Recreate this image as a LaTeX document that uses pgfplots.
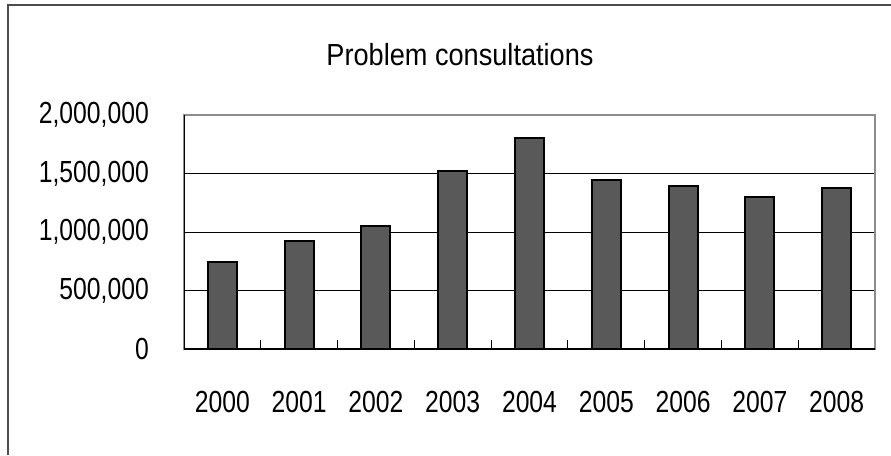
\documentclass[border=0pt]{standalone}
\usepackage{fontspec}
\setmainfont[FakeStretch=0.81]{Liberation Sans}
\newfontfamily\titlefont[FakeStretch=0.89]{Liberation Sans}
\usepackage{pgfplots}
\pgfplotsset{compat=1.18}
\begin{document}
\begin{tikzpicture}[x=1pt,y=1pt]
\useasboundingbox (0,0) rectangle (891,-455);
\draw[line width=1.3pt, black!70] (8,-455) -- (8,-5) -- (891,-5);
\node[anchor=base, inner sep=0pt, font=\titlefont\fontsize{30.5}{36}\selectfont] at (460,-65) {Problem consultations};
\begin{axis}[
  at={(184pt,-349pt)}, anchor=south west,
  scale only axis, width=691pt, height=234pt,
  xmin=-0.5, xmax=8.5, ymin=0, ymax=2000000,
  axis line style={draw=black!45, line width=1.5pt},
  ytick={0,500000,1000000,1500000,2000000},
  scaled y ticks=false,
  /pgf/number format/fixed,
  /pgf/number format/precision=0,
  /pgf/number format/1000 sep={,},
  /pgf/number format/assume math mode=true,
  ymajorgrids,
  major grid style={black, line width=0.8pt},
  xtick={0,1,2,3,4,5,6,7,8},
  xticklabels={2000,2001,2002,2003,2004,2005,2006,2007,2008},
  minor xtick={-0.5,0.5,1.5,2.5,3.5,4.5,5.5,6.5,7.5,8.5},
  major tick length=0pt,
  minor tick length=9pt,
  tick align=inside,
  xtick pos=bottom,
  ytick pos=left,
  minor tick style={black, line width=0.8pt},
  tick label style={font=\fontsize{30.5}{36}\selectfont},
  xticklabel style={anchor=base, inner sep=0pt, yshift=-63pt},
  yticklabel style={anchor=east, inner sep=0pt, xshift=-35pt},
]
\addplot[ybar, bar width=29pt, fill=black!65, draw=black, line width=2pt]
  coordinates {(0,740000) (1,925000) (2,1050000) (3,1520000) (4,1800000)
               (5,1445000) (6,1395000) (7,1295000) (8,1375000)};
\draw[black, line width=1.5pt] (rel axis cs:0,1) -- (rel axis cs:0,0) -- (rel axis cs:1,0);
\end{axis}
\end{tikzpicture}
\end{document}
